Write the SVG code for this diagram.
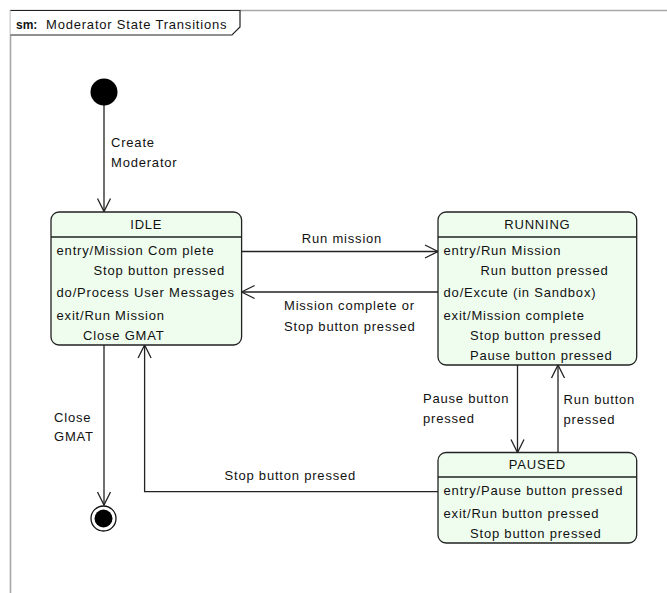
<svg xmlns="http://www.w3.org/2000/svg" width="667" height="593" viewBox="0 0 667 593">
  <style>
    text { font-family: "Liberation Sans", Arial, sans-serif; font-size: 13px; letter-spacing: 0.8px; fill: #111; }
    .mid { text-anchor: middle; }
    .box { fill: #effdef; stroke: #222; stroke-width: 1.3; }
    .sep { stroke: #222; stroke-width: 1.3; }
    .edge { fill: none; stroke: #222; stroke-width: 1.3; }
    .frame { fill: none; stroke: #a8a8a8; stroke-width: 1.6; }
  </style>
  <defs>
    <marker id="open" markerWidth="16" markerHeight="16" refX="14" refY="8" orient="auto" markerUnits="userSpaceOnUse">
      <path d="M1 1.5 L14 8 L1 14.5" fill="none" stroke="#222" stroke-width="1.3"/>
    </marker>
  </defs>

  <rect width="667" height="593" fill="#ffffff"/>

  <!-- diagram frame with name tab -->
  <g id="frame">
    <path class="frame" d="M10.5 593 V10.5 H667"/>
    <path d="M10.5 10.5 H240 V27 L232 35 H10.5" fill="#ffffff" stroke="#222" stroke-width="1.2"/>
    <text x="16" y="29" style="font-weight:bold;letter-spacing:0px;font-size:12px">sm:</text>
    <text x="46" y="29">Moderator State Transitions</text>
  </g>

  <!-- transitions -->
  <g id="connectors">
    <line class="edge" x1="104" y1="105" x2="104" y2="211.5" marker-end="url(#open)"/>
    <line class="edge" x1="241.6" y1="251.5" x2="438" y2="251.5" marker-end="url(#open)"/>
    <line class="edge" x1="438" y1="292" x2="241.6" y2="292" marker-end="url(#open)"/>
    <line class="edge" x1="104" y1="345" x2="104" y2="505" marker-end="url(#open)"/>
    <polyline class="edge" points="438,491.7 144.6,491.7 144.6,345" marker-end="url(#open)"/>
    <line class="edge" x1="517.5" y1="365" x2="517.5" y2="452.5" marker-end="url(#open)"/>
    <line class="edge" x1="558" y1="452.5" x2="558" y2="365" marker-end="url(#open)"/>

    <text x="111" y="146.5">Create</text>
    <text x="111" y="166.5">Moderator</text>
    <text class="mid" x="342" y="243">Run mission</text>
    <text x="284" y="310">Mission complete or</text>
    <text x="284" y="330.5">Stop button pressed</text>
    <text x="54" y="421.5">Close</text>
    <text x="54" y="441">GMAT</text>
    <text x="224.5" y="480">Stop button pressed</text>
    <text x="423" y="403">Pause button</text>
    <text x="423" y="423">pressed</text>
    <text x="563.5" y="404.3">Run button</text>
    <text x="563.5" y="424.3">pressed</text>
  </g>

  <!-- pseudo states -->
  <g id="initial">
    <circle cx="104" cy="92" r="13.5" fill="#000"/>
  </g>
  <g id="final">
    <circle cx="103.5" cy="518.5" r="12.5" fill="#fff" stroke="#111" stroke-width="1.3"/>
    <circle cx="103.5" cy="518.5" r="9" fill="#000"/>
  </g>

  <!-- states -->
  <g id="idle">
    <rect class="box" x="51" y="212" width="190.6" height="133" rx="8"/>
    <line class="sep" x1="51" y1="237" x2="241.6" y2="237"/>
    <text class="mid" x="146.3" y="228.5">IDLE</text>
    <text x="56.6" y="255">entry/Mission Com plete</text>
    <text x="93.6" y="274.5">Stop button pressed</text>
    <text x="56.6" y="297">do/Process User Messages</text>
    <text x="56.6" y="320">exit/Run Mission</text>
    <text x="83" y="340">Close GMAT</text>
  </g>

  <g id="running">
    <rect class="box" x="438" y="212" width="198.7" height="153" rx="8"/>
    <line class="sep" x1="438" y1="237" x2="636.7" y2="237"/>
    <text class="mid" x="537.4" y="228.5">RUNNING</text>
    <text x="443.6" y="255">entry/Run Mission</text>
    <text x="480.6" y="274.5">Run button pressed</text>
    <text x="443.6" y="297">do/Excute (in Sandbox)</text>
    <text x="443.6" y="320">exit/Mission complete</text>
    <text x="470" y="340">Stop button pressed</text>
    <text x="470" y="360">Pause button pressed</text>
  </g>

  <g id="paused">
    <rect class="box" x="438" y="452.5" width="198.7" height="90.5" rx="8"/>
    <line class="sep" x1="438" y1="477" x2="636.7" y2="477"/>
    <text class="mid" x="537.4" y="469">PAUSED</text>
    <text x="443.6" y="495">entry/Pause button pressed</text>
    <text x="443.6" y="517.7">exit/Run button pressed</text>
    <text x="470" y="538">Stop button pressed</text>
  </g>
</svg>
